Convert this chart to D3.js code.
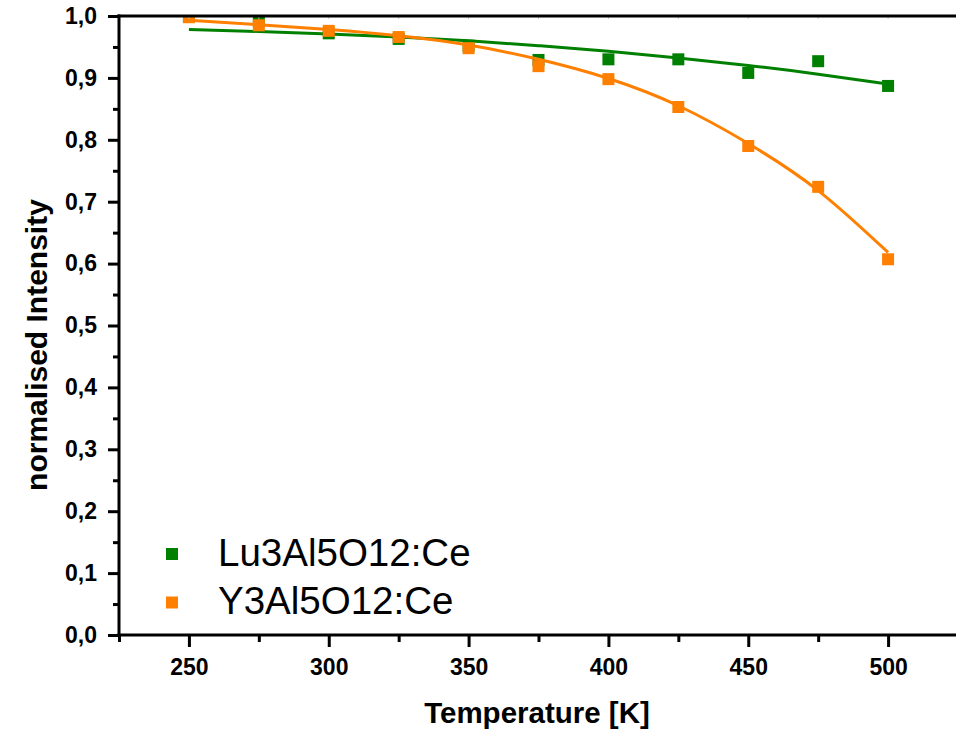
<!DOCTYPE html>
<html>
<head>
<meta charset="utf-8">
<script src="https://cdn.jsdelivr.net/npm/d3@7"></script>
<style>
  html, body { margin: 0; padding: 0; background: #fff; }
  svg { display: block; font-family: "Liberation Sans", Arial, sans-serif; }
</style>
</head>
<body>
<svg id="chart" width="956" height="732"></svg>
<script>
// Measured temperatures (K)
const temperatures = [250, 275, 300, 325, 350, 375, 400, 425, 450, 475, 500];
// Normalised emission intensity per phosphor
const luagValues = [0.999, 0.992, 0.972, 0.963, 0.952, 0.929, 0.930, 0.930, 0.908, 0.927, 0.887];
const yagValues  = [0.998, 0.985, 0.976, 0.966, 0.948, 0.919, 0.898, 0.853, 0.790, 0.724, 0.607];
// Fitted quenching curves, sampled at the same temperatures
const luagFit = [0.978, 0.975, 0.971, 0.966, 0.960, 0.952, 0.943, 0.932, 0.920, 0.906, 0.890];
const yagFit  = [0.993, 0.986, 0.978, 0.968, 0.953, 0.930, 0.899, 0.855, 0.794, 0.718, 0.618];

const seriesNames = ["Lu3Al5O12:Ce", "Y3Al5O12:Ce"];
const seriesColors = ["#008000", "#ff8000"];

const xMajorTicks = [250, 300, 350, 400, 450, 500];
const xMinorTicks = [225, 275, 325, 375, 425, 475, 525];
const yMajorTicks = [0, 0.1, 0.2, 0.3, 0.4, 0.5, 0.6, 0.7, 0.8, 0.9, 1.0];
const yMinorTicks = [0.05, 0.15, 0.25, 0.35, 0.45, 0.55, 0.65, 0.75, 0.85, 0.95];

const svg = d3.select("#chart");
const pL = 119, pR = 958, pT = 16, pB = 635;
const fontStack = "Liberation Sans, Arial, sans-serif";

const x = d3.scaleLinear().domain([225, 525]).range([pL, pR]);
const y = d3.scaleLinear().domain([0, 1]).range([pB, pT]);

svg.append("defs").append("clipPath").attr("id", "plot-clip")
  .append("rect").attr("x", pL).attr("y", pT)
  .attr("width", pR - pL).attr("height", pB - pT);

const plot = svg.append("g").attr("clip-path", "url(#plot-clip)");

const series = [
  { name: seriesNames[0], color: seriesColors[0], values: luagValues, fit: luagFit },
  { name: seriesNames[1], color: seriesColors[1], values: yagValues, fit: yagFit }
];

const line = d3.line()
  .x(d => x(d[0])).y(d => y(d[1]))
  .curve(d3.curveNatural);

const ms = 12;
series.forEach(s => {
  plot.append("path")
    .datum(temperatures.map((t, i) => [t, s.fit[i]]))
    .attr("d", line)
    .attr("fill", "none")
    .attr("stroke", s.color)
    .attr("stroke-width", 3);
  plot.selectAll(null)
    .data(temperatures.map((t, i) => [t, s.values[i]]))
    .enter().append("rect")
    .attr("x", d => x(d[0]) - ms / 2)
    .attr("y", d => y(d[1]) - ms / 2)
    .attr("width", ms).attr("height", ms)
    .attr("fill", s.color);
});

// Top frame with faint inward ticks
const topAxis = svg.append("g");
topAxis.selectAll(null).data(xMajorTicks.concat(xMinorTicks)).enter().append("line")
  .attr("x1", d => x(d)).attr("x2", d => x(d))
  .attr("y1", pT).attr("y2", pT + 3)
  .attr("stroke", "#c8c8c8").attr("stroke-width", 1);
topAxis.append("line")
  .attr("x1", pL - 1.5).attr("x2", 956)
  .attr("y1", pT).attr("y2", pT)
  .attr("stroke", "#000").attr("stroke-width", 3);

// Bottom axis
const xAxisMajor = d3.axisBottom(x).tickValues(xMajorTicks).tickSize(12).tickPadding(12)
  .tickFormat(d3.format("d"));
const gx = svg.append("g").attr("transform", `translate(0,${pB})`).call(xAxisMajor);
gx.select(".domain").remove();
gx.selectAll(".tick line").attr("stroke", "#000").attr("stroke-width", 3);
gx.selectAll(".tick text")
  .attr("font-family", fontStack)
  .attr("font-size", 23).attr("font-weight", "bold").attr("fill", "#000");
const gxMinor = svg.append("g").attr("transform", `translate(0,${pB})`)
  .call(d3.axisBottom(x).tickValues(xMinorTicks).tickSize(7).tickFormat(""));
gxMinor.select(".domain").remove();
gxMinor.selectAll(".tick line").attr("stroke", "#000").attr("stroke-width", 3);
svg.append("line")
  .attr("x1", pL - 1.5).attr("x2", 956)
  .attr("y1", pB).attr("y2", pB)
  .attr("stroke", "#000").attr("stroke-width", 3);

// Left axis
const yAxisMajor = d3.axisLeft(y).tickValues(yMajorTicks).tickSize(11).tickPadding(11)
  .tickFormat(d => d3.format(".1f")(d).replace(".", ","));
const gy = svg.append("g").attr("transform", `translate(${pL},0)`).call(yAxisMajor);
gy.select(".domain").remove();
gy.selectAll(".tick line").attr("stroke", "#000").attr("stroke-width", 3);
gy.selectAll(".tick text")
  .attr("font-family", fontStack)
  .attr("font-size", 23).attr("font-weight", "bold").attr("fill", "#000");
const gyMinor = svg.append("g").attr("transform", `translate(${pL},0)`)
  .call(d3.axisLeft(y).tickValues(yMinorTicks).tickSize(6).tickFormat(""));
gyMinor.select(".domain").remove();
gyMinor.selectAll(".tick line").attr("stroke", "#000").attr("stroke-width", 3);
svg.append("line")
  .attr("x1", pL).attr("x2", pL)
  .attr("y1", pT - 1.5).attr("y2", pB + 1.5)
  .attr("stroke", "#000").attr("stroke-width", 3);

// Axis titles
svg.append("text")
  .attr("x", 537).attr("y", 723)
  .attr("text-anchor", "middle")
  .attr("font-family", fontStack)
  .attr("font-size", 29.5).attr("font-weight", "bold")
  .text("Temperature [K]");
svg.append("text")
  .attr("transform", "translate(47,345) rotate(-90)")
  .attr("text-anchor", "middle")
  .attr("font-family", fontStack)
  .attr("font-size", 30).attr("font-weight", "bold")
  .text("normalised Intensity");

// Legend
const legend = svg.append("g");
series.forEach((s, i) => {
  const cy = 554 + i * 48.5;
  legend.append("rect")
    .attr("x", 166).attr("y", cy - 6)
    .attr("width", 12).attr("height", 12)
    .attr("fill", s.color);
  legend.append("text")
    .attr("x", 218).attr("y", cy + 11.5)
    .attr("font-family", fontStack)
    .attr("font-size", 38.5)
    .text(s.name);
});
</script>
</body>
</html>
